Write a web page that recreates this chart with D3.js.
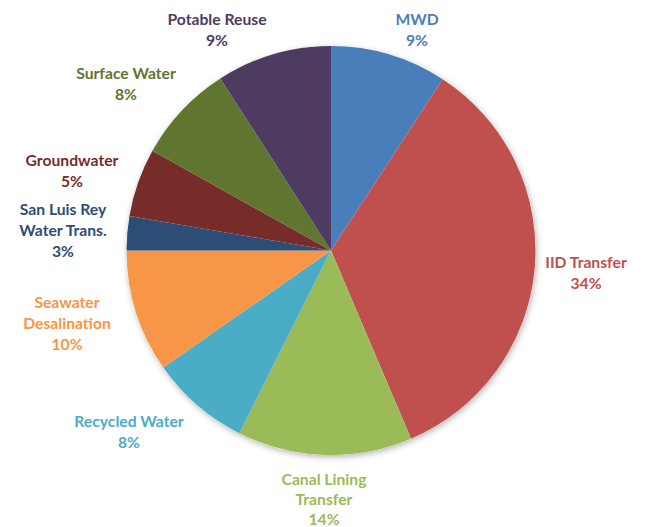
<!DOCTYPE html>
<html><head><meta charset="utf-8">
<script src="https://cdn.jsdelivr.net/npm/d3@7"></script>
<style>body{margin:0;background:#fff;} text{font-family:Lato,"Open Sans",sans-serif;font-weight:bold;font-size:15.7px;}</style>
</head><body>
<svg id="c" width="645" height="527"></svg>
<script>
const categories = ["MWD","IID Transfer","Canal Lining Transfer","Recycled Water","Seawater Desalination","San Luis Rey Water Trans.","Groundwater","Surface Water","Potable Reuse"];
const values = [9.2,34.4,13.8,7.9,9.7,2.7,5.4,7.8,9.1];
const percentLabels = ["9%","34%","14%","8%","10%","3%","5%","8%","9%"];
const labelLines = [["MWD"],["IID Transfer"],["Canal Lining","Transfer"],["Recycled Water"],["Seawater","Desalination"],["San Luis Rey","Water Trans."],["Groundwater"],["Surface Water"],["Potable Reuse"]];
const colors = ["#4a7ebb","#c0504d","#9bbb59","#4bacc6","#f79646","#2c4d75","#772c2a","#5f7530","#4d3b62"];
const textColors = ["#4a7ebb","#c0504d","#9bbb59","#4bacc6","#f79646","#2c4d75","#772c2a","#5f7530","#4d3b62"];

const svg = d3.select("#c");
const cx = 331, cy = 250.5, r = 204.5;
const defs = svg.append("defs");
const f = defs.append("filter").attr("id","sh").attr("x","-20%").attr("y","-20%").attr("width","140%").attr("height","140%");
f.append("feDropShadow").attr("dx",1).attr("dy",2).attr("stdDeviation",3).attr("flood-color","#000").attr("flood-opacity",0.3);

const pie = d3.pie().sort(null).value(d=>d);
const arcs = pie(values);
const arc = d3.arc().innerRadius(0).outerRadius(r);
const g = svg.append("g").attr("transform",`translate(${cx},${cy})`);
g.append("circle").attr("r",r).attr("fill","#fff").attr("filter","url(#sh)");
g.selectAll("path").data(arcs).join("path").attr("d",arc).attr("fill",(d,i)=>colors[i]);

// label anchor positions (center of first line), derived from reference
const labelPos = [[417,20],[586,263],[324,480],[129,422],[67,303],[63,210],[72,161],[126,74],[217,20]];
const lineH = [21,21,20,21,21,21,21,21,21];
const lg = svg.append("g");
categories.forEach((c,i)=>{
  const lines = labelLines[i].concat([percentLabels[i]]);
  const t = lg.append("text").attr("text-anchor","middle").attr("fill",textColors[i]);
  lines.forEach((l,j)=>{
    t.append("tspan").attr("x",labelPos[i][0]).attr("y",labelPos[i][1]+j*lineH[i]).attr("dy","0.35em").text(l);
  });
});
</script>
</body></html>
